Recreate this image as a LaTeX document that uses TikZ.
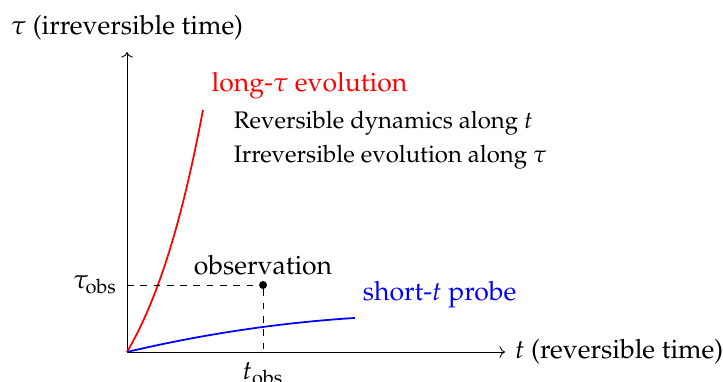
\documentclass[tikz,border=0pt]{standalone}
\usepackage[T1]{fontenc}
\usepackage{amsmath}
\usepackage{mathpazo}
\usepackage{tikz}
\usetikzlibrary{arrows.meta, positioning, calc}
\tikzset{
  axis/.style={->, thin, color=black},
  guide/.style={dashed, thin, color=black},
  longcurve/.style={thick, color=red},
  shortcurve/.style={thick, color=blue},
  obsdot/.style={circle, fill=black, inner sep=0pt, minimum size=3.6pt},
  longlabel/.style={color=red, anchor=west},
  shortlabel/.style={color=blue, anchor=west},
  remark/.style={align=left, anchor=west, font=\fontsize{10.8}{15.4}\selectfont},
}

\begin{document}
\begin{tikzpicture}[font=\large]

  \useasboundingbox (-2.016,-0.476) rectangle (9.46,5.587);

  \coordinate (O) at (0,0);
  \coordinate (xend) at (6,0);
  \coordinate (yend) at (0,4.76);
  \node[obsdot] (obs) at (2.159,1.063) {};
  \coordinate (tauobs) at (O |- obs);
  \coordinate (tobs) at (obs |- O);

  \draw[axis] (O) -- (xend);
  \draw[axis] (O) -- (yend);
  \node[right=1pt of xend] (tlabel) {$t$ (reversible time)};
  \node[above=2pt of yend] (taulabel) {$\tau$ (irreversible time)};

  \draw[longcurve] plot[domain=0:1.206, samples=60] (\x, {1.793*(exp(0.95*\x)-1)});
  \draw[shortcurve] plot[domain=0:3.619, samples=60] (\x, {0.2352*\x-0.02375*\x*\x});

  \draw[guide] (tauobs) -- (obs);
  \draw[guide] (obs) -- (tobs);
  \node[left=1pt of tauobs] (tauobslabel) {$\tau_{\text{obs}}$};
  \node[below=1pt of tobs] (tobslabel) {$t_{\text{obs}}$};
  \node[above=-1.2pt of obs] (obslabel) {observation};

  \node[longlabel] (long) at (1.22,4.22) {long-$\tau$ evolution};
  \node[shortlabel] (short) at (3.62,0.905) {short-$t$ probe};
  \node[remark] (note) at (1.57,3.365) {Reversible dynamics along $t$\\Irreversible evolution along $\tau$};

\end{tikzpicture}
\end{document}
